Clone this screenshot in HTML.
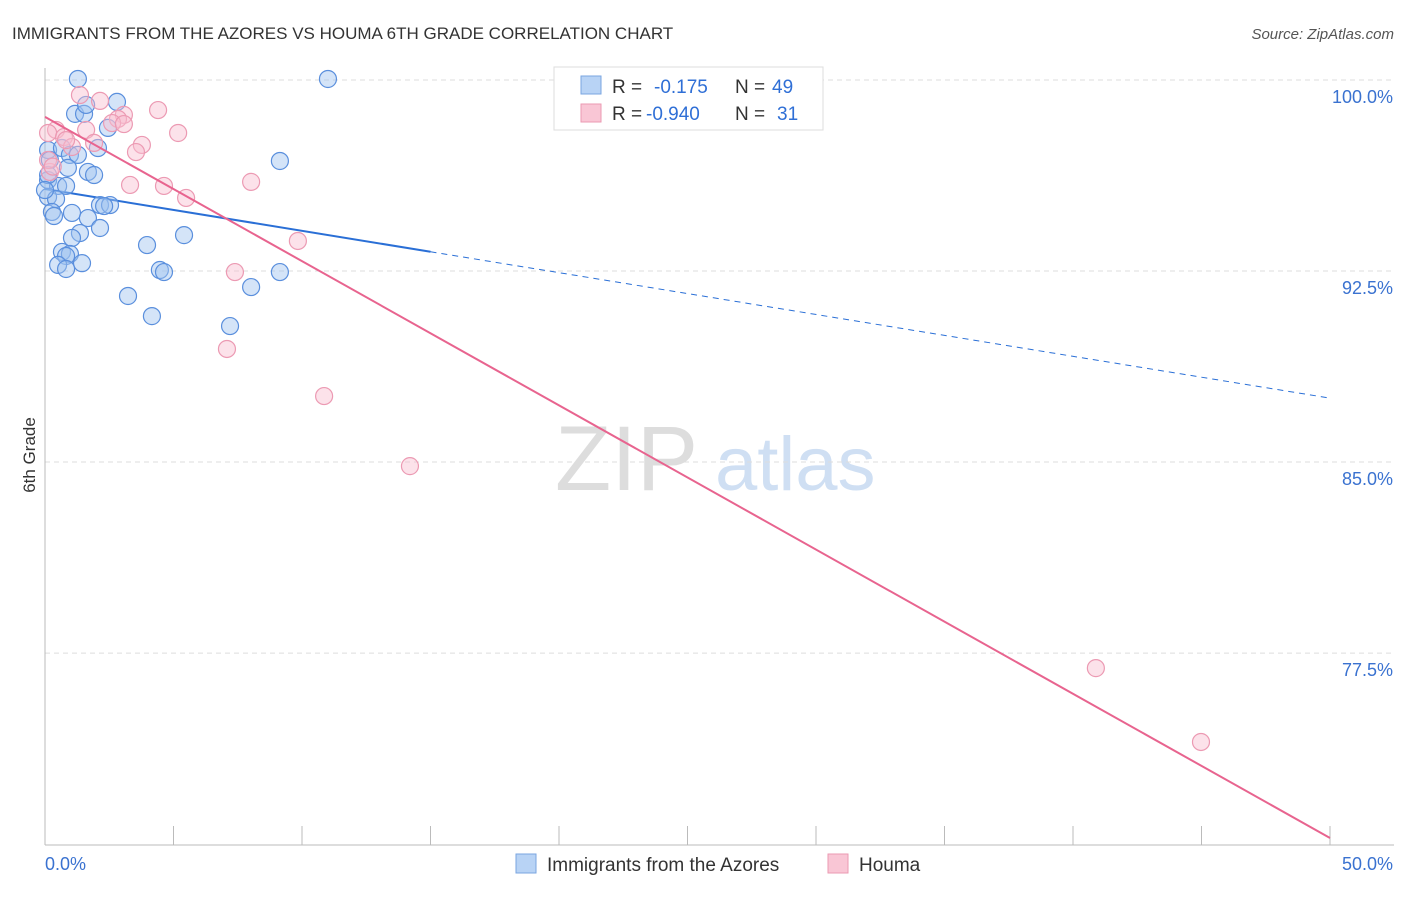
<!DOCTYPE html>
<html><head><meta charset="utf-8"><style>
body{margin:0;background:#fff;font-family:"Liberation Sans",sans-serif;}
svg text{font-family:"Liberation Sans",sans-serif;}
</style></head><body>
<svg width="1406" height="892" id="chart">
<text x="12" y="39" font-size="17" fill="#333">IMMIGRANTS FROM THE AZORES VS HOUMA 6TH GRADE CORRELATION CHART</text>
<text x="1394" y="39" font-size="15" fill="#555" font-style="italic" text-anchor="end">Source: ZipAtlas.com</text>
<text x="555" y="490" font-size="92" fill="#ddd" font-family="Liberation Serif">ZIP</text>
<text x="715" y="490" font-size="76" fill="#cfdff3">atlas</text>
<text transform="translate(35,455) rotate(-90)" font-size="17" fill="#333" text-anchor="middle">6th Grade</text>
<g id="grid"></g><g id="ticks"></g><g id="lines"></g><g id="pts"></g>
<g>
<rect x="554" y="67" width="269" height="63" fill="#fff" stroke="#ddd"/>
<rect x="581" y="76" width="20" height="18" fill="#b8d3f5" stroke="#7aa6e0"/>
<rect x="581" y="104" width="20" height="18" fill="#f9c6d5" stroke="#eb9ab2"/>
<text x="612" y="93" font-size="19" fill="#333">R = <tspan fill="#2f6fd6" x="654">-0.175</tspan><tspan fill="#333" x="735">N =</tspan><tspan fill="#2f6fd6" x="772">49</tspan></text>
<text x="612" y="120" font-size="19" fill="#333">R = <tspan fill="#2f6fd6" x="646">-0.940</tspan><tspan fill="#333" x="735">N =</tspan><tspan fill="#2f6fd6" x="777">31</tspan></text>
</g>
<g>
<rect x="516" y="854" width="20" height="19" fill="#b8d3f5" stroke="#7aa6e0"/>
<text x="547" y="871" font-size="19" fill="#333">Immigrants from the Azores</text>
<rect x="828" y="854" width="20" height="19" fill="#f9c6d5" stroke="#eb9ab2"/>
<text x="859" y="871" font-size="19" fill="#333">Houma</text>
</g>
</svg>
<script>
const yTickVals=[100,92.5,85,77.5];
const yTickLabels=["100.0%","92.5%","85.0%","77.5%"];
const xTickLabels=["0.0%","50.0%"];
const blueX=[1.28,11.01,2.80,1.17,1.52,1.60,2.45,0.12,0.66,0.97,1.28,2.06,9.14,0.19,0.89,1.67,1.91,0.12,0.51,0.82,0.12,0.43,0.27,0.35,1.05,1.67,2.14,2.53,2.30,1.36,2.14,1.05,3.97,5.41,0.66,0.97,0.82,1.44,0.51,0.82,4.47,4.63,9.14,8.02,3.23,4.16,7.20,0.12,0.0];
const blueY=[100.04,100.04,99.14,98.67,98.67,99.02,98.12,97.25,97.33,97.06,97.06,97.33,96.82,96.86,96.55,96.39,96.27,96.07,95.84,95.84,95.41,95.33,94.82,94.66,94.78,94.58,95.09,95.09,95.05,93.99,94.19,93.80,93.52,93.91,93.25,93.17,93.09,92.81,92.74,92.58,92.54,92.46,92.46,91.87,91.52,90.73,90.34,96.27,95.68];
const pinkX=[1.36,2.14,4.40,3.07,2.84,2.61,0.43,0.12,0.74,1.60,3.07,1.05,1.91,3.77,3.54,5.18,0.19,3.31,4.63,5.49,8.02,9.84,7.39,7.08,10.86,14.20,40.89,44.98,0.12,0.82,0.3];
const pinkY=[99.41,99.18,98.82,98.63,98.47,98.31,98.04,97.92,97.76,98.04,98.27,97.37,97.53,97.45,97.17,97.92,96.39,95.88,95.84,95.37,96.00,93.68,92.46,89.44,87.59,84.84,76.91,74.01,96.86,97.64,96.6];
const blueTrend=[95.72,87.51]; const blueSolidEnd=15;
const pinkTrend=[98.55,70.24];
const NS="http://www.w3.org/2000/svg";
const X=v=>45+v*25.7, Y=v=>80+(100-v)*25.47;
function mk(t,a,p){const e=document.createElementNS(NS,t);for(const k in a)e.setAttribute(k,a[k]);document.getElementById(p).appendChild(e);return e;}
yTickVals.forEach((v,i)=>{
 const g=mk('line',{x1:45,x2:1394,y1:Y(v),y2:Y(v),stroke:'#ddd','stroke-dasharray':'5,4'},'grid');
 
 
 const t=mk('text',{x:1393,y:Y(v)+23,'font-size':18,fill:'#3a72d0','text-anchor':'end'},'ticks');t.textContent=yTickLabels[i];
 
 
});
const ax=mk('line',{x1:45,x2:45,y1:68,y2:845,stroke:'#bbb'},'grid');


const bx=mk('line',{x1:45,x2:1394,y1:845,y2:845,stroke:'#bbb'},'grid');


for(let i=0;i<=10;i++){const xx=X(i*5);const l=mk('line',{x1:xx,x2:xx,y1:826,y2:845,stroke:'#bbb'},'grid');
 
 }
[[0,'start',45],[50,'end',1393]].forEach((d,i)=>{const t=mk('text',{x:d[2],y:870,'font-size':18,fill:'#3a72d0','text-anchor':d[1]},'ticks');t.textContent=xTickLabels[i];
 
 });
const by=x=>blueTrend[0]+(blueTrend[1]-blueTrend[0])*x/50;
let l1=mk('line',{x1:X(0),y1:Y(by(0)),x2:X(blueSolidEnd),y2:Y(by(blueSolidEnd)),stroke:'#2a6fd6','stroke-width':2},'lines');


let l2=mk('line',{x1:X(blueSolidEnd),y1:Y(by(blueSolidEnd)),x2:X(50),y2:Y(by(50)),stroke:'#2a6fd6','stroke-width':1,'stroke-dasharray':'6,5'},'lines');


blueX.forEach((x,i)=>{const c=mk('circle',{cx:X(x),cy:Y(blueY[i]),r:8.5,fill:'rgba(160,195,240,0.45)',stroke:'#5a8fdd','stroke-width':1.2},'pts');
 
 });
pinkX.forEach((x,i)=>{const c=mk('circle',{cx:X(x),cy:Y(pinkY[i]),r:8.5,fill:'rgba(248,190,208,0.45)',stroke:'#ec9ab3','stroke-width':1.2},'pts');
 
 });
let l3=mk('line',{x1:X(0),y1:Y(pinkTrend[0]),x2:X(50),y2:Y(pinkTrend[1]),stroke:'#e8648f','stroke-width':2},'pts');


</script>
</body></html>
